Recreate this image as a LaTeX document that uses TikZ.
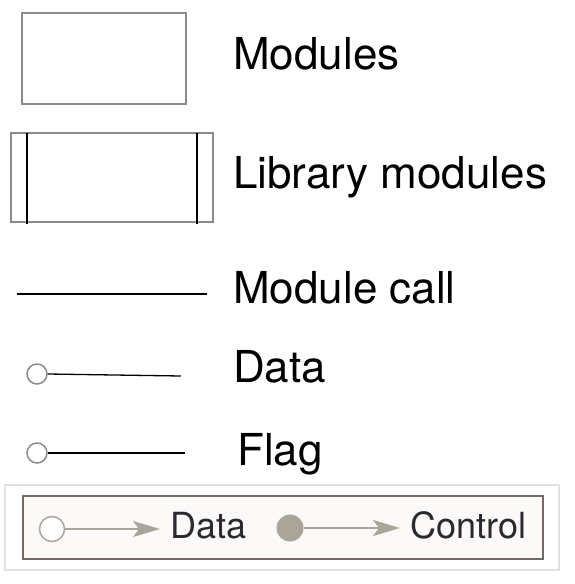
\documentclass[tikz,border=0pt]{standalone}
\usepackage{fontspec}
\setmainfont{TeX Gyre Heros}
\usetikzlibrary{arrows.meta}
\definecolor{boxgray}{HTML}{898B8E}
\definecolor{legbg}{HTML}{FBFAF9}
\definecolor{legframe}{HTML}{746B66}
\definecolor{legline}{HTML}{ABA599}
\definecolor{legtext}{HTML}{2C2830}
\tikzset{
  modbox/.style={draw=boxgray, line width=2pt},
  libbar/.style={draw=black, line width=2pt},
  biglabel/.style={anchor=base west, inner sep=0pt, font=\fontsize{44}{50}\selectfont, text=black},
  leglabel/.style={anchor=base west, inner sep=0pt, font=\fontsize{36}{42}\selectfont, text=legtext},
  calline/.style={draw=black, line width=1.5pt},
  opencirc/.style={circle, draw=boxgray, line width=1.5pt, fill=white, minimum size=20pt, inner sep=0pt},
  legarrow/.style={draw=legline, line width=2pt, -{Stealth[length=27pt,width=16pt,inset=6pt]}},
  legopen/.style={circle, draw=legline, line width=1.5pt, fill=white, minimum size=25pt, inner sep=0pt},
  legfull/.style={circle, fill=legline, minimum size=27pt, inner sep=0pt},
}
\begin{document}
\begin{tikzpicture}[x=1pt,y=-1pt]
\useasboundingbox (0,0) rectangle (575,584);
% Modules
\node[modbox, minimum width=164pt, minimum height=91pt, inner sep=0pt] (mod) at (104,58.5) {};
\node[biglabel] (modlbl) at (233,69) {Modules};
% Library modules
\node[modbox, minimum width=202pt, minimum height=89pt, inner sep=0pt] (lib) at (112,177.5) {};
\coordinate (l1t) at (27,133); \coordinate (l1b) at (27,224);
\coordinate (l2t) at (197,133); \coordinate (l2b) at (197,224);
\draw[libbar] (l1t) -- (l1b);
\draw[libbar] (l2t) -- (l2b);
\node[biglabel] (liblbl) at (233,188) {Library modules};
% Module call
\coordinate (mcA) at (17,294); \coordinate (mcB) at (207,294);
\draw[calline] (mcA) -- (mcB);
\node[biglabel] (mclbl) at (233,303) {Module call};
% Data
\node[opencirc] (dc) at (37,374) {};
\coordinate (dEnd) at (181,376);
\draw[draw=black, line width=1.3pt] (dc.east) -- (dEnd);
\node[biglabel] (dlbl) at (233,382) {Data};
% Flag
\node[opencirc] (fc) at (37,453) {};
\coordinate (fEnd) at (185,453);
\draw[draw=black, line width=2pt] (fc.east) -- (fEnd);
\node[biglabel] (flbl) at (237,465) {Flag};
% Legend box
\node[draw=black!12, line width=1.5pt, fill=white, minimum width=554pt, minimum height=85pt, inner sep=0pt] (legout) at (282,527.5) {};
\node[draw=legframe, line width=2pt, fill=legbg, minimum width=520pt, minimum height=63pt, inner sep=0pt] (legin) at (283,527) {};
\node[legopen] (lc1) at (52,529) {};
\coordinate (la1) at (160,529);
\draw[legarrow] (lc1.east) -- (la1);
\node[leglabel] (ld) at (170,538) {Data};
\node[legfull] (lc2) at (290,528) {};
\coordinate (la2) at (400,528);
\draw[legarrow] (lc2.east) -- (la2);
\node[leglabel] (lcl) at (410,538) {Control};
\end{tikzpicture}
\end{document}
